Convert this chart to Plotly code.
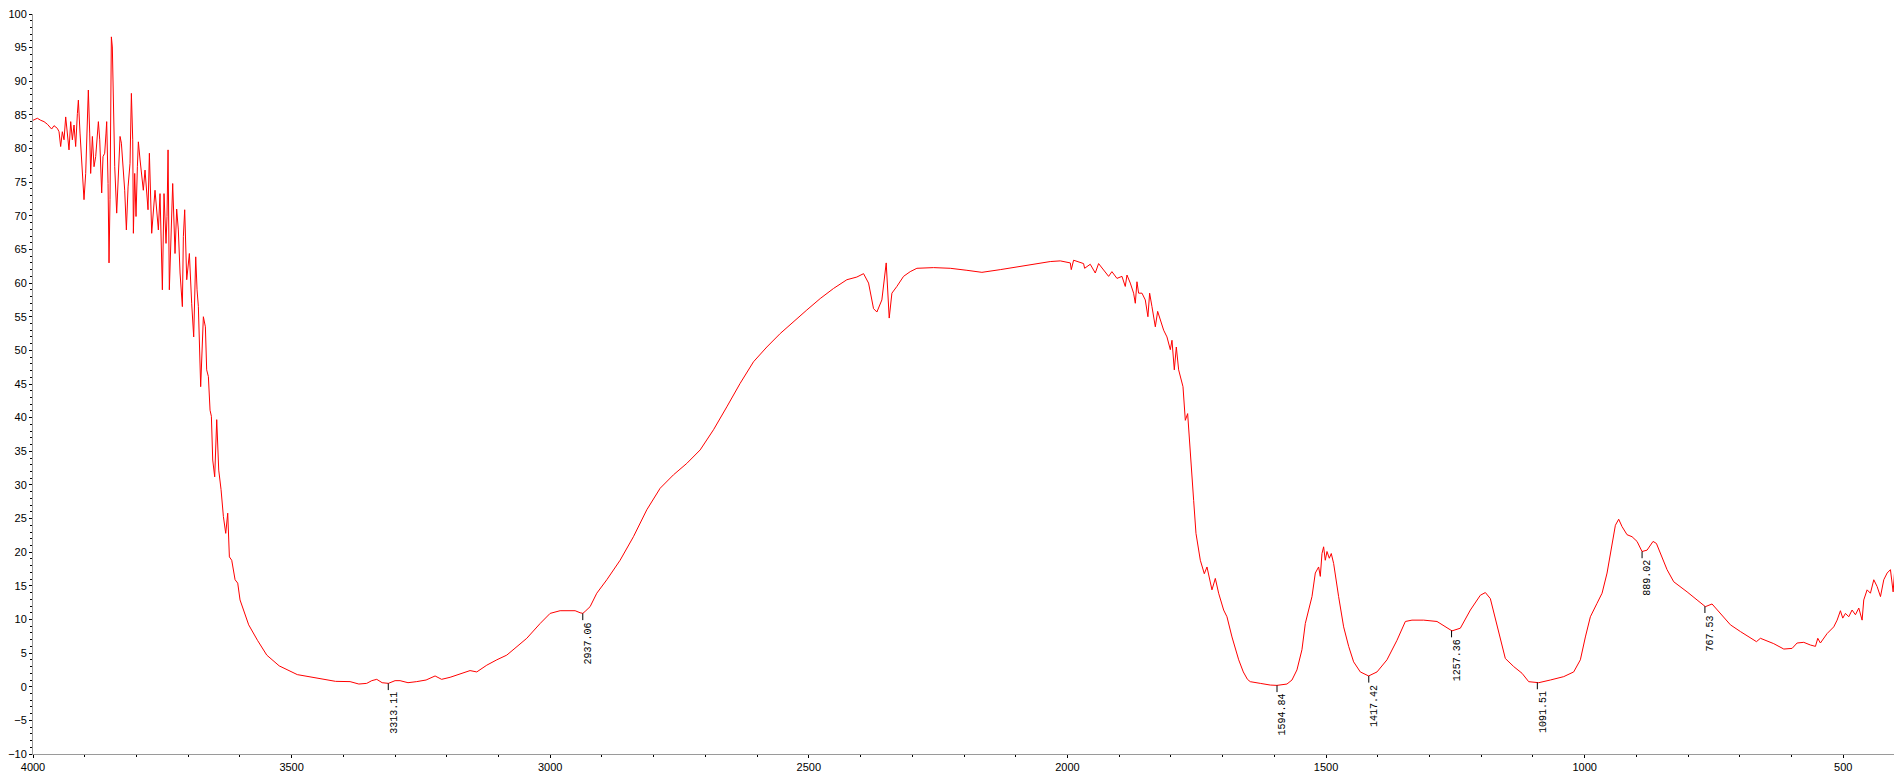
import numpy as np
import plotly.graph_objects as go

# Spectrum (wavenumber cm-1, transmittance %)
wavenumber = [
    4000, 3991.6, 3985.0, 3978.7, 3972.0, 3969.1, 3964.0, 3959.4, 3952.9, 3949.7, 3946.5, 3943.3, 3940.0,
    3936.8, 3933.6, 3930.4, 3927.1, 3923.9, 3920.7, 3917.5, 3914.2, 3912.3, 3909.1,
    3905.9, 3902.6, 3901.4, 3898.1, 3894.9, 3893.0, 3890.4, 3888.5, 3885.2, 3882.0,
    3878.8, 3875.6, 3873.6, 3871.0, 3869.1, 3867.2, 3864.6, 3861.4, 3858.8, 3857.5,
    3854.9, 3853.0, 3851.1, 3848.5, 3846.6, 3844.6, 3842.0, 3838.2, 3835.6, 3831.7,
    3829.1, 3825.3, 3822.7, 3819.5, 3816.2, 3812.4, 3809.8, 3807.2, 3805.9, 3803.4,
    3800.8, 3798.2, 3796.3, 3793.0,
    3786.7, 3783.4, 3780.2, 3777.6, 3775.0, 3772.5, 3770.5, 3764.1, 3760.9, 3757.6,
    3754.4, 3751.8, 3749.9, 3746.7, 3742.8, 3740.9,
    3738.9, 3736.4, 3733.1, 3729.9, 3725.4, 3722.2, 3719.0, 3715.7, 3711.2, 3709.3, 3706.7, 3702.8,
    3697.7, 3695.7, 3693.2, 3689.3, 3685.4, 3682.8, 3680.3, 3675.8, 3673.2, 3670.6, 3666.7, 3664.2, 3660.9,
    3657.7, 3655.1, 3652.5, 3648.7, 3644.8, 3640.9, 3636.4, 3631.9, 3627.4, 3623.5,
    3620.3, 3615.8, 3609.3, 3604.2, 3599.7,
    3583, 3566, 3548, 3524, 3489, 3442, 3415,
    3387, 3370, 3354.8, 3345, 3335.4, 3325, 3312.9, 3300, 3290.3, 3275, 3258.1, 3240,
    3222.6, 3210, 3193.6, 3174.3, 3155.0, 3142.0, 3122.7, 3103.3, 3084.0,
    3070, 3045.3, 3019.5, 3000.2, 2980.9, 2951.9, 2942.2, 2937.0, 2932.5, 2922.9,
    2910.0, 2890.6, 2864.9, 2839.1, 2813.3, 2787.5, 2761.7, 2735.9, 2710.1, 2684.3,
    2658.6, 2632.8, 2607.0, 2581.2, 2555.4, 2529.6, 2503.9, 2478.0, 2452.3, 2426.5,
    2407.2, 2394.2, 2384.5, 2374.9, 2368.4, 2358.8, 2350.4, 2344.6, 2339.4, 2329.8,
    2316.9, 2304.0, 2291.1, 2258.8, 2226.6, 2194.4, 2165.4, 2129.9, 2097.7, 2065.5,
    2033.2, 2013.9, 1994.5, 1992.6, 1988.1, 1968.8, 1966.8, 1955.9, 1946.2, 1939.8,
    1930.1, 1920.4, 1914.0, 1904.3, 1894.6, 1888.2, 1884.9, 1878.5, 1872.1, 1868.8,
    1865.6, 1862.4, 1855.9, 1849.5, 1844.4, 1841.1,
    1836.6, 1830.1, 1825.6, 1820.5, 1814.0, 1807.6, 1801.1, 1797.9, 1793.4, 1789.5,
    1785.0, 1776.6, 1772.1, 1767.6, 1762.5, 1756.0, 1751.5, 1743.1, 1735.4, 1730.2,
    1720.6, 1714.1, 1707.7, 1698.0, 1691.6, 1681.9, 1668.9, 1660, 1652,
    1646.5, 1627.2, 1607.8, 1595.0, 1575.6, 1565.9, 1556.3, 1546.6, 1540.1, 1533.7,
    1527.2, 1520.8, 1514.4, 1511.1, 1507.9, 1504.7, 1501.5, 1498.2, 1493.7, 1489.9,
    1485.3, 1475.7, 1466.0, 1456.3, 1446.7, 1433.8, 1417.7, 1401.5, 1382.2, 1362.9,
    1346.7, 1333.9, 1311.3, 1285.5, 1266.2, 1256.5, 1240.4, 1221.0, 1201.7, 1192.0,
    1182.4, 1166.3, 1153.4, 1137.2, 1121.1, 1108.2,
    1088.9, 1066.3, 1040.5, 1021.2, 1008.3, 998.6, 989.0, 976.1, 966.4, 956.7,
    947.1, 940.6, 934.2, 927.7, 918.1, 908.4, 898.7, 889.1, 879.4, 867.8,
    861.3, 850.4, 840.7, 827.8, 814.9, 802.0, 782.7, 766.6, 753.7, 737.6,
    718.2, 698.9, 679.5, 667.9, 660.2, 650.5, 634.4, 615.0, 598.9, 589.3,
    576.4, 563.5, 553.8, 549.3, 544.2, 531.3, 518.4, 511.9, 505.5, 501.0,
    495.8, 489.4, 483.0, 476.5, 470.0, 463.6, 460.4, 453.9, 447.5, 441.0,
    434.6, 428.1, 421.7, 415.2, 408.8, 403.6, 400.5,
]
transmittance = [
    84.2, 84.5, 84.2, 84.0, 83.6, 83.3, 82.9, 83.4, 83.0, 82.5, 80.3, 82.5, 81.3,
    84.7, 81.8, 79.8, 84.0, 81.3, 83.5, 80.3, 85.2, 87.2, 82.3,
    77.3, 74.3, 72.4, 76.3, 86.2, 88.7, 82.3, 76.3, 81.8, 77.3,
    78.8, 82.3, 84.0, 81.3, 75.3, 73.4, 78.8, 79.3, 82.3, 84.0,
    74.8, 63.0, 72.4, 96.6, 95.1, 87.2, 77.3, 70.4, 74.3, 81.8,
    80.8, 77.3, 73.8, 67.9, 74.3, 77.8, 88.2, 81.3, 67.4, 76.3,
    69.9, 77.3, 81.0, 78.3,
    73.8, 76.8, 73.3, 70.9, 79.3, 72.9, 67.4, 73.8, 70.4, 67.9,
    73.3, 63.4, 59.0, 73.3, 65.9, 69.9,
    79.8, 59.0, 67.4, 74.8, 64.4, 71.0, 67.9, 61.5, 56.5, 66.9, 70.9, 60.5,
    64.4, 60.0, 57.0, 52.0, 63.9, 59.0, 56.5, 44.6, 51.0, 55.0, 53.5, 47.1, 46.1,
    41.1, 40.2, 33.7, 31.2, 39.7, 32.2, 29.3, 25.3, 22.8, 25.8,
    19.3, 18.8, 15.9, 15.4, 12.9,
    9.2, 6.9, 4.7, 3.1, 1.8, 1.1, 0.8,
    0.76, 0.4, 0.5, 0.9, 1.1, 0.6, 0.5, 0.9, 0.9, 0.6, 0.76, 1.0,
    1.6, 1.1, 1.4, 1.9, 2.4, 2.2, 3.2, 4.0, 4.7,
    5.6, 7.2, 9.4, 10.9, 11.3, 11.3, 11.0, 10.9, 11.2, 11.9,
    13.9, 15.9, 18.8, 22.3, 26.3, 29.5, 31.5, 33.2, 35.2, 38.2,
    41.6, 45.1, 48.3, 50.5, 52.5, 54.3, 56.0, 57.7, 59.2, 60.5,
    60.9, 61.4, 60.0, 56.2, 55.7, 57.5, 63.0, 54.8, 58.5, 59.5,
    61.0, 61.7, 62.2, 62.3, 62.2, 61.9, 61.6, 62.0, 62.4, 62.8,
    63.2, 63.3, 63.0, 62.0, 63.4, 62.9, 62.2, 62.8, 61.5, 62.9,
    61.9, 61.0, 61.7, 60.7, 61.0, 59.5, 61.2, 60.0, 58.5, 57.0,
    60.2, 58.5, 58.5, 57.5, 55.0, 58.5,
    56.5, 53.5, 55.8, 54.5, 53.0, 52.0, 50.1, 51.5, 47.1, 50.5,
    47.1, 44.6, 39.6, 40.6, 34.2, 27.7, 22.8, 18.8, 16.8, 17.8,
    14.4, 16.1, 13.9, 11.4, 10.4, 7.4, 4.0, 2.2, 1.1,
    0.75, 0.5, 0.25, 0.2, 0.4, 1.0, 2.5, 5.5, 9.4, 11.4,
    13.4, 16.9, 17.8, 16.4, 19.8, 20.8, 18.8, 20.1, 19.1, 19.8,
    18.3, 13.4, 8.9, 6.0, 3.7, 2.2, 1.6, 2.2, 4.0, 6.9,
    9.7, 9.9, 9.9, 9.7, 8.8, 8.3, 8.7, 11.4, 13.6, 14.0,
    13.1, 8.4, 4.2, 3.0, 2.0, 0.75,
    0.6, 1.0, 1.5, 2.2, 4.0, 7.4, 10.4, 12.4, 13.9, 16.9,
    21.3, 24.0, 24.9, 23.8, 22.6, 22.3, 21.6, 20.1, 20.3, 21.6,
    21.3, 19.1, 17.4, 15.6, 14.9, 14.1, 12.9, 11.9, 12.3, 10.9,
    9.2, 8.2, 7.2, 6.7, 7.2, 6.9, 6.4, 5.6, 5.7, 6.5,
    6.6, 6.2, 6.0, 7.2, 6.5, 7.9, 8.9, 9.9, 11.3, 10.2,
    10.9, 10.4, 11.4, 10.7, 11.7, 9.9, 12.9, 14.4, 13.9, 15.9,
    14.9, 13.4, 15.9, 16.9, 17.4, 14.1, 17.4,
]

peak_positions = [3313.11, 2937.06, 1594.84, 1417.42, 1257.36, 1091.51, 889.02, 767.53]
peak_labels = ["3313.11", "2937.06", "1594.84", "1417.42", "1257.36", "1091.51", "889.02", "767.53"]

x_range = [4000, 400]
y_range = [-10, 100]

wn = np.array(wavenumber)
tr = np.array(transmittance)
order = np.argsort(wn)
peak_values = np.interp(peak_positions, wn[order], tr[order])

fig = go.Figure()
fig.add_trace(go.Scatter(
    x=wavenumber, y=transmittance, mode="lines",
    line=dict(color="#ff0000", width=1), hoverinfo="x+y", showlegend=False,
))

tick_len = 1.0
for px, pv, lab in zip(peak_positions, peak_values, peak_labels):
    fig.add_shape(type="line", x0=px, x1=px, y0=pv, y1=pv - tick_len,
                  xref="x", yref="y", line=dict(color="black", width=1))
    fig.add_annotation(x=px, y=pv - tick_len, text=lab, showarrow=False,
                       textangle=-90, xanchor="left", yanchor="top",
                       xshift=-2, yshift=0,
                       font=dict(family="Liberation Mono", size=10, color="black"))

axis_font = dict(family="Liberation Sans", size=11, color="black")
fig.update_xaxes(
    range=x_range, autorange=False, automargin=False, showgrid=False, zeroline=False,
    showline=True, linecolor="#9a9a9a", linewidth=1, ticklabeloverflow="allow",
    tickmode="linear", tick0=500, dtick=500,
    ticks="outside", ticklen=3, tickcolor="black", tickfont=axis_font,
    minor=dict(dtick=100, tick0=400, ticks="outside", ticklen=2, tickcolor="black", showgrid=False),
)
fig.update_yaxes(
    range=y_range, autorange=False, automargin=False, showgrid=False, zeroline=False,
    showline=True, linecolor="#9a9a9a", linewidth=1, ticklabeloverflow="allow",
    tickmode="linear", tick0=0, dtick=5,
    ticks="outside", ticklen=3, tickcolor="black", tickfont=axis_font,
    minor=dict(dtick=1, ticks="outside", ticklen=2, tickcolor="black", showgrid=False),
)
# the page body has an 8px default margin; size the figure so the plot lands where the reference has it
fig.update_layout(
    width=1894, height=769,
    margin=dict(l=25, r=7, t=6, b=23),
    paper_bgcolor="white", plot_bgcolor="white",
    showlegend=False,
)
fig.write_html("out.html")
